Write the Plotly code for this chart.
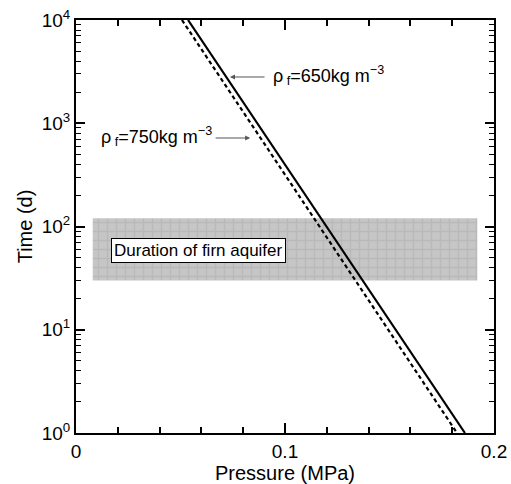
import plotly.graph_objects as go

# Data
time_ends = [1e4, 1.0]                 # d
p_650 = [0.0536, 0.1861]               # MPa, rho_f = 650 kg m^-3 (solid)
p_750 = [0.0507, 0.1823]               # MPa, rho_f = 750 kg m^-3 (dashed)
band_p = [0.008, 0.192]                # MPa extent of shaded band
band_t = [30, 120]                     # d, duration of firn aquifer

ytick_vals = [1, 10, 100, 1000, 10000]
ytick_text = ["10<sup>0</sup>", "10<sup>1</sup>", "10<sup>2</sup>", "10<sup>3</sup>", "10<sup>4</sup>"]
xtick_vals = [0, 0.1, 0.2]
xtick_text = ["0", "0.1", "0.2"]

font_family = "Liberation Sans, Arial, sans-serif"

fig = go.Figure()

fig.add_trace(go.Scatter(
    x=[band_p[0], band_p[1], band_p[1], band_p[0], band_p[0]],
    y=[band_t[0], band_t[0], band_t[1], band_t[1], band_t[0]],
    mode="lines", fill="toself", line=dict(width=0),
    fillcolor="rgb(195,195,195)",
    fillpattern=dict(shape="+", bgcolor="rgb(198,198,198)", fgcolor="rgb(172,172,172)",
                     size=9, solidity=0.3),
    hoverinfo="skip", showlegend=False))

fig.add_trace(go.Scatter(x=p_650, y=time_ends, mode="lines",
                         line=dict(color="black", width=2.2), showlegend=False))
fig.add_trace(go.Scatter(x=p_750, y=time_ends, mode="lines",
                         line=dict(color="black", width=2.2, dash="4px,3px"), showlegend=False))

annots = []
# arrows
annots.append(dict(x=0.0737, y=3.448, xref="x", yref="y", text="", showarrow=True,
                   ax=36, ay=0, arrowhead=2, arrowsize=1, arrowwidth=1, arrowcolor="#555"))
annots.append(dict(x=0.0833, y=2.857, xref="x", yref="y", text="", showarrow=True,
                   ax=-36, ay=0, arrowhead=2, arrowsize=1, arrowwidth=1, arrowcolor="#555"))
annots.append(dict(x=0.0933, y=3.46, xref="x", yref="y", xanchor="left", yanchor="middle",
                   text="ρ<sub> f</sub>=650kg m<sup>−3</sup>", showarrow=False,
                   font=dict(size=18, color="black", family=font_family)))
annots.append(dict(x=0.0660, y=2.87, xref="x", yref="y", xanchor="right", yanchor="middle",
                   text="ρ<sub> f</sub>=750kg m<sup>−3</sup>", showarrow=False,
                   font=dict(size=18, color="black", family=font_family)))
annots.append(dict(x=0.0584, y=1.772, xref="x", yref="y", xanchor="center", yanchor="middle",
                   text="Duration of firn aquifer", showarrow=False,
                   bgcolor="white", bordercolor="black", borderwidth=1, borderpad=2,
                   font=dict(size=17, color="black", family=font_family)))

fig.update_layout(
    width=511, height=484,
    margin=dict(l=76, r=17, t=20, b=51),
    paper_bgcolor="white", plot_bgcolor="white",
    font=dict(family=font_family, size=19, color="black"),
    annotations=annots,
    xaxis=dict(range=[0, 0.2], tickvals=xtick_vals, ticktext=xtick_text,
               ticks="inside", ticklen=10, tickwidth=1.5, tickcolor="black",
               showline=True, linecolor="black", linewidth=2, mirror="allticks",
               showgrid=False, zeroline=False, automargin=False,
               minor=dict(dtick=0.02, ticks="inside", ticklen=6, tickwidth=1.5,
                          tickcolor="black", showgrid=False),
               title=dict(text="Pressure (MPa)", font=dict(size=20), standoff=2),
               tickfont=dict(size=19)),
    yaxis=dict(type="log", range=[0, 4], tickvals=ytick_vals, ticktext=ytick_text,
               ticks="inside", ticklen=9, tickwidth=1.5, tickcolor="black",
               showline=True, linecolor="black", linewidth=2, mirror="allticks",
               showgrid=False, zeroline=False, automargin=False,
               minor=dict(dtick="D1", ticks="inside", ticklen=5, tickwidth=1.2,
                          tickcolor="black", showgrid=False),
               title=dict(text="Time (d)", font=dict(size=20), standoff=4),
               tickfont=dict(size=19)),
)

fig.write_html("out.html")
